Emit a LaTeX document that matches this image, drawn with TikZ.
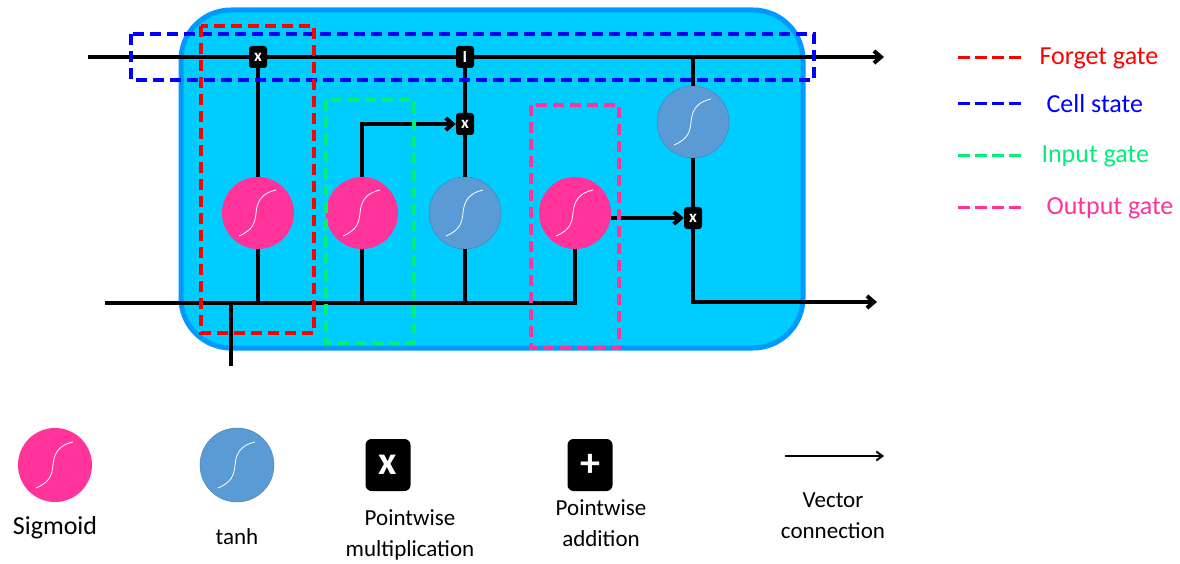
\documentclass[tikz,border=0pt]{standalone}
\usepackage{fontspec}
\setmainfont{Carlito}
\usetikzlibrary{arrows.meta}

\definecolor{sigpink}{RGB}{255,51,153}
\definecolor{tanhblue}{RGB}{91,155,213}
\definecolor{cellfill}{RGB}{0,204,255}
\definecolor{cellborder}{RGB}{0,153,255}
\definecolor{gatered}{RGB}{255,0,0}
\definecolor{gateblue}{RGB}{0,0,255}
\definecolor{gategreen}{RGB}{0,240,120}

\tikzset{
    wire/.style={line width=4pt, black},
    arr/.style={wire, -{Straight Barb[length=7pt, width=12pt]}},
    curve/.style={path picture={
        \draw[white, line width=0.8pt, shift={(path picture bounding box.center)}]
            (-19pt,-23pt) .. controls (-5pt,-17pt) and (-3pt,-10pt) .. (-2pt,0pt)
            .. controls (-1pt,12pt) and (4pt,20pt) .. (18pt,23pt);}},
    sig/.style={circle, fill=sigpink, minimum size=72pt, inner sep=0pt, curve},
    tanhc/.style={circle, fill=tanhblue, draw=tanhblue!80!black, line width=0.4pt, minimum size=72pt, inner sep=0pt, curve},
    op/.style={rectangle, rounded corners=3pt, fill=black, text=white, font=\fontsize{17}{17}\selectfont\bfseries, minimum width=18pt, minimum height=22pt, inner sep=0pt},
    bigop/.style={op, rounded corners=6pt, font=\fontsize{40}{40}\selectfont\bfseries, minimum width=45pt, minimum height=52pt},
    gate/.style={line width=3.5pt, dash pattern=on 11pt off 6pt},
    lbl/.style={font=\fontsize{23}{31}\selectfont, align=center},
    key/.style={font=\fontsize{26}{30}\selectfont, anchor=west}
}

\begin{document}
\begin{tikzpicture}[x=1pt, y=-1pt]
    \useasboundingbox (0,0) rectangle (1180,564);

    % LSTM cell
    \draw[line width=5pt, draw=cellborder, fill=cellfill, rounded corners=50pt] (181,10) rectangle (803,348);

    % gates and ops
    \node[sig] (fs) at (258,213) {};
    \node[sig] (is) at (362,213) {};
    \node[tanhc] (it) at (465,213) {};
    \node[sig] (os) at (575,213) {};
    \node[tanhc] (ct) at (693,122) {};
    \node[op] (fx) at (258,57) {x};
    \node[op] (add) at (465,57) {I};
    \node[op] (ix) at (465,124) {x};
    \node[op] (ox) at (693,218) {x};

    \coordinate (cin) at (88,57);
    \coordinate (cout) at (884,57);
    \coordinate (ctop) at (693,57);
    \coordinate (hin) at (105,303);
    \coordinate (hend) at (575,303);
    \coordinate (hout) at (877,302);
    \coordinate (xin) at (231,366);

    % Cell state line
    \draw[wire] (cin) -- (fx);
    \draw[wire] (fx) -- (add);
    \draw[arr] (add) -- (cout);

    % Hidden state / input line
    \draw[wire] (hin) -- (hend) -- (os);
    \draw[wire] (xin) -- (xin |- hin);
    \draw[wire] (fs |- hin) -- (fs);
    \draw[wire] (fs) -- (fx);
    \draw[wire] (is |- hin) -- (is);
    \draw[arr] (is) |- (ix);
    \draw[wire] (it |- hin) -- (it);
    \draw[wire] (it) -- (ix);
    \draw[wire] (ix) -- (add);
    \draw[arr] (os.east |- ox) -- (ox);
    \draw[wire] (ctop) -- (ct);
    \draw[wire] (ct) -- (ox);
    \draw[arr] (ox) |- (hout);

    % Dashed regions
    \draw[gate, gateblue] (131,34) rectangle (814,80);
    \draw[gate, gatered] (201,26) rectangle (314,333);
    \draw[gate, gategreen] (326,100) rectangle (414,343);
    \draw[gate, sigpink] (531,105) rectangle (619,348);

    % Legend (right)
    \draw[line width=3pt, dash pattern=on 12pt off 5pt, gatered] (958,58) -- (1022,58);
    \node[key, text=gatered] (lf) at (1036,58) {Forget gate};
    \draw[line width=3pt, dash pattern=on 12pt off 5pt, gateblue] (958,104) -- (1022,104);
    \node[key, text=gateblue] (lc) at (1043,104) {Cell state};
    \draw[line width=3pt, dash pattern=on 12pt off 5pt, gategreen] (958,156) -- (1022,156);
    \node[key, text=gategreen] (li) at (1038,156) {Input gate};
    \draw[line width=3pt, dash pattern=on 12pt off 5pt, sigpink] (958,208) -- (1022,208);
    \node[key, text=sigpink] (lo) at (1043,208) {Output gate};

    % Legend (bottom)
    \node[sig, minimum size=74pt] (ksig) at (55,465) {};
    \node[lbl, font=\fontsize{26}{30}\selectfont] (tsig) at (55,528) {Sigmoid};
    \node[tanhc, minimum size=74pt] (ktanh) at (237,465) {};
    \node[lbl] (ttanh) at (237,537) {tanh};
    \node[bigop] (kmul) at (388,465) {x};
    \node[lbl] (tmul) at (410,535) {Pointwise\\multiplication};
    \node[bigop] (kadd) at (590,465) {+};
    \node[lbl] (tadd) at (601,523) {Pointwise\\addition};
    \coordinate (va) at (785,456);
    \coordinate (vb) at (884,456);
    \draw[line width=2pt, -{Straight Barb[length=6pt, width=9pt]}] (va) -- (vb);
    \node[lbl] (tvec) at (833,516) {Vector\\connection};
\end{tikzpicture}
\end{document}
